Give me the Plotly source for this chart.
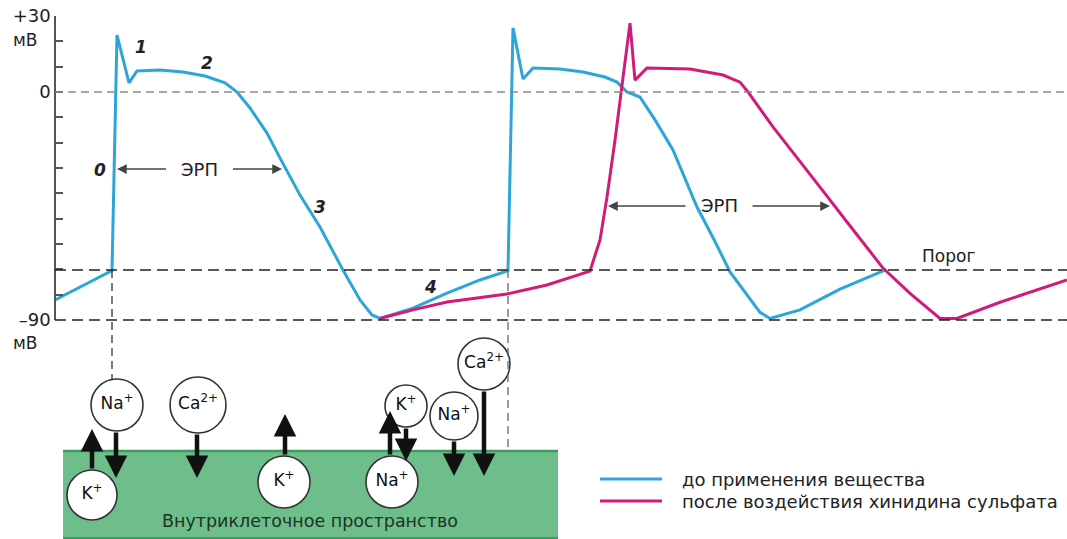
import plotly.graph_objects as go

# ---------------- data (time in ms, potential in mV) ----------------
t_before = [0, 57, 62, 74, 82, 105, 128, 150, 170, 182, 195, 212, 226, 245, 265, 288, 305, 317, 325,
            358, 392, 425, 453, 458, 468, 478, 505, 528, 550, 562, 572, 585, 600, 618, 642, 660, 675,
            695, 705, 715, 745, 785, 830]
v_before = [-82.1, -70.5, 22.5, 3.6, 8.3, 8.7, 7.9, 6.3, 3.6, 0, -6.3, -16.2, -26.8, -40.7, -53.3, -70.3, -82.1, -88.0, -89.4,
            -85.3, -79.4, -74.2, -70.5, 25.3, 5.1, 9.5, 9.1, 7.9, 5.9, 3.9, 0, -2.0, -11.0, -22.9, -45.4, -59.0, -71.0,
            -82.0, -87.0, -89.4, -86.0, -77.8, -70.3]

t_after = [325, 358, 392, 452, 492, 535, 545, 552, 560, 570, 575, 580, 592, 635, 668, 685, 693, 718, 752,
           772, 792, 828, 855, 885, 902, 945, 1012]
v_after = [-89.4, -86.0, -82.9, -79.7, -76.2, -70.7, -58.4, -41.5, -19.0, 12.6, 27.2, 4.7, 9.5, 9.1, 6.7, 3.9, 0, -13.8, -30.8,
           -41.1, -51.3, -69.5, -79.5, -89.4, -89.4, -83.0, -74.2]

threshold_mv = -70.3
rest_mv = -90
tick_mv = [30, 20, 10, 0, -10, -20, -30, -40, -50, -60, -70, -80, -90]
tick_text = ["+30", "", "", "0", "", "", "", "", "", "", "", "", "\u201390"]

phase_labels = ["0", "1", "2", "3", "4"]
phase_t = [45, 86, 152, 265, 375]
phase_v = [-30.8, 17.8, 11.4, -45.4, -77.0]

erp_label = "ЭРП"
erp_before = [62, 227]   # start / end of effective refractory period (before)
erp_after = [553, 775]
erp_v = [-30.4, -45.0]

ion_labels = ["Na<sup>+</sup>", "Ca<sup>2+</sup>", "K<sup>+</sup>", "K<sup>+</sup>",
              "K<sup>+</sup>", "Na<sup>+</sup>", "Ca<sup>2+</sup>", "Na<sup>+</sup>"]

legend_labels = ["до применения вещества", "после воздействия хинидина сульфата"]
BLUE = "#2ca6d9"
MAGENTA = "#d01b78"
FONT = "DejaVu Sans"

# ---------------- geometry of the schematic (pixels in lower diagram) ----------------
Y0_PX = 92.0
PX_PER_MV = 304.0 / 120.0
X0_PX = 55


def mv_px(v):
    return Y0_PX - v * PX_PER_MV


def t_of(px):
    return px - X0_PX


ion_x = [117, 198, 92, 284, 406, 454, 484, 392]
ion_y = [405, 405, 495, 482, 406, 416, 364, 482]
ion_d = [52, 56, 50, 52, 42, 48, 52, 52]

# arrows: (x, tail y, tip y)
ion_arrows = [(92, 470, 429), (116, 431, 478), (197, 433, 478), (285, 456, 414),
              (390, 456, 411), (406, 427, 461), (454, 440, 476), (484, 390, 476)]

fig = go.Figure()

# membrane / intracellular space
fig.add_shape(type="rect", xref="x", yref="y2", x0=t_of(63), x1=t_of(558), y0=451, y1=539,
              fillcolor="#6ebe8c", line_width=0, layer="below")
fig.add_shape(type="line", xref="x", yref="y2", x0=t_of(63), x1=t_of(558), y0=451, y1=451,
              line=dict(color="#3e9a5f", width=2.5), layer="below")
fig.add_shape(type="line", xref="x", yref="y2", x0=t_of(63), x1=t_of(558), y0=538, y1=538,
              line=dict(color="#3e9a5f", width=2), layer="below")
fig.add_annotation(x=t_of(310), y=521, xref="x", yref="y2", text="Внутриклеточное пространство",
                   showarrow=False, font=dict(size=17.5, color="#1d3323", family=FONT))

# horizontal guide lines
fig.add_shape(type="line", xref="x", yref="y2", x0=0, x1=1012, y0=mv_px(0), y1=mv_px(0),
              line=dict(color="#8a8a8a", width=1.5, dash="8px,5px"))
for v in [threshold_mv, rest_mv]:
    fig.add_shape(type="line", xref="x", yref="y2", x0=0, x1=1012, y0=mv_px(v), y1=mv_px(v),
                  line=dict(color="#222", width=1.5, dash="11px,6px"))

# vertical guide lines from threshold crossing down to the ion scheme
fig.add_shape(type="line", xref="x", yref="y2", x0=t_before[1], x1=t_before[1],
              y0=mv_px(threshold_mv), y1=380, line=dict(color="#333", width=1.3, dash="8px,5px"))
fig.add_shape(type="line", xref="x", yref="y2", x0=t_before[22], x1=t_before[22],
              y0=mv_px(threshold_mv), y1=451, line=dict(color="#666", width=1.3, dash="8px,5px"))

# action potentials
fig.add_trace(go.Scatter(x=t_before, y=v_before, mode="lines", line=dict(color=BLUE, width=3),
                         xaxis="x", yaxis="y", hoverinfo="skip"))
fig.add_trace(go.Scatter(x=t_after, y=v_after, mode="lines", line=dict(color=MAGENTA, width=3),
                         xaxis="x", yaxis="y", hoverinfo="skip"))

# ions
fig.add_trace(go.Scatter(x=[t_of(x) for x in ion_x], y=ion_y, xaxis="x", yaxis="y2",
                         mode="markers+text", text=ion_labels, textposition="middle center",
                         textfont=dict(size=17, color="#111", family=FONT),
                         marker=dict(size=ion_d, color="white", opacity=1,
                                     line=dict(color="#333", width=1.6)),
                         hoverinfo="skip"))
for x, y_tail, y_tip in ion_arrows:
    fig.add_annotation(x=t_of(x), y=y_tip, ax=t_of(x), ay=y_tail, xref="x", yref="y2",
                       axref="x", ayref="y2", text="", showarrow=True, arrowhead=2,
                       arrowsize=1.0, arrowwidth=4.5, arrowcolor="#111")

# phase numbers
for lab, t, v in zip(phase_labels, phase_t, phase_v):
    fig.add_annotation(x=t, y=v, xref="x", yref="y", text="<b><i>" + lab + "</i></b>",
                       showarrow=False, font=dict(size=17, color="#222", family=FONT))

# ERP arrows
for (t0, t1), v in zip([erp_before, erp_after], erp_v):
    mid = (t0 + t1) / 2
    fig.add_annotation(x=mid, y=v, xref="x", yref="y", text=erp_label, showarrow=False,
                       font=dict(size=18, color="#222", family=FONT))
    for tip, tail in [(t0, mid - 32), (t1, mid + 32)]:
        fig.add_annotation(x=tip, y=v, ax=tail, ay=v, xref="x", yref="y", axref="x", ayref="y",
                           text="", showarrow=True, arrowhead=2, arrowsize=1.3,
                           arrowwidth=1.5, arrowcolor="#444")

fig.add_annotation(x=t_of(948), y=mv_px(threshold_mv) - 14, xref="x", yref="y2", text="Порог",
                   showarrow=False, font=dict(size=17, color="#222", family=FONT))

# units
for ypx in [40, 343]:
    fig.add_annotation(x=t_of(25), y=ypx, xref="x", yref="y2", text="мВ", showarrow=False,
                       font=dict(size=17, color="#222", family=FONT))

# legend
for i, (lab, col) in enumerate(zip(legend_labels, [BLUE, MAGENTA])):
    ypx = 479 + 22 * i
    fig.add_shape(type="line", xref="x", yref="y2", x0=t_of(600), x1=t_of(662), y0=ypx, y1=ypx,
                  line=dict(color=col, width=3))
    fig.add_annotation(x=t_of(680), y=ypx, xref="x", yref="y2", text=lab, showarrow=False,
                       xanchor="left", font=dict(size=18, color="#222", family=FONT))

fig.update_layout(
    width=1067, height=539,
    margin=dict(l=0, r=0, t=0, b=0, autoexpand=False),
    paper_bgcolor="white", plot_bgcolor="rgba(0,0,0,0)",
    showlegend=False,
    font=dict(family=FONT, color="#222"),
    xaxis=dict(domain=[0, 1], range=[-55, 1012], visible=False, fixedrange=True, automargin=False),
    yaxis=dict(domain=[1 - 320 / 539, 1 - 16 / 539], range=[-90, 30], anchor="free",
               position=55 / 1067, showline=True, linecolor="#555", linewidth=1.5,
               ticks="inside", ticklen=7, tickwidth=1.5, tickcolor="#555",
               tickvals=tick_mv, ticktext=tick_text, tickfont=dict(size=18, color="#222"),
               showgrid=False, zeroline=False, fixedrange=True, automargin=False),
    yaxis2=dict(domain=[0, 1], range=[539, 0], anchor="x", visible=False, fixedrange=True,
                automargin=False),
)

# the page body has a default 8px margin; drop it so the figure sits at the window origin
fig.write_html("out.html", config={"displayModeBar": False},
               post_script="document.body.style.margin='0';")
